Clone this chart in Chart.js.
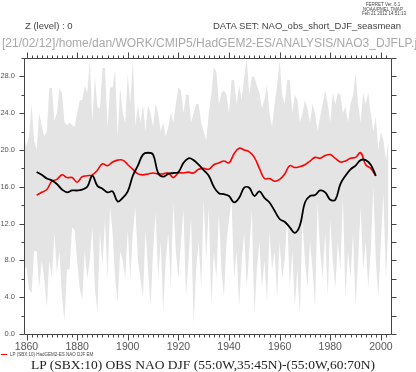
<!DOCTYPE html>
<html>
<head>
<meta charset="utf-8">
<script src="https://cdn.jsdelivr.net/npm/chart.js@4.4.0/dist/chart.umd.min.js"></script>
<style>
  html, body { margin: 0; padding: 0; background: #fff; }
  #wrap { position: relative; width: 416px; height: 372px; overflow: hidden; }
  #chart { position: absolute; left: 0; top: 0; }
  .lbl { position: absolute; white-space: nowrap; font-family: "Liberation Sans", Arial, sans-serif; color: #444; line-height: 1; }
  .tiny { transform: scale(0.5); transform-origin: 0 0; }
</style>
</head>
<body>
<div id="wrap">
  <canvas id="chart" width="416" height="372"></canvas>
  <div class="lbl tiny" style="left:362px; top:2px; font-size:9px; line-height:9.5px; text-align:center; width:84px;">FERRET Ver. 6.1<br>NOAA/PMEL TMAP<br>Feb 21 2012 14:51:13</div>
  <div class="lbl" style="left:25px; top:21px; font-size:9.5px;">Z (level) : 0</div>
  <div class="lbl" style="left:213px; top:21px; font-size:9.5px;">DATA SET: NAO_obs_short_DJF_seasmean</div>
  <div class="lbl" style="left:2px; top:37px; font-size:12px; color:#a8a8a8;">[21/02/12]/home/dan/WORK/CMIP5/HadGEM2-ES/ANALYSIS/NAO3_DJFLP.jnl</div>
  <div class="lbl" style="left:1px; top:354px; width:6px; height:1px; background:#ff0000;"></div>
  <div class="lbl tiny" style="left:10px; top:351.5px; font-size:9px;">LP (SBX:10) HadGEM2-ES NAO DJF EM</div>
  <div class="lbl" style="left:0; top:358px; width:406px; text-align:center; font-family:'Liberation Serif', serif; font-size:13.5px; color:#222;">LP (SBX:10) OBS NAO DJF (55:0W,35:45N)-(55:0W,60:70N)</div>
</div>
<script>
// years of the annual spread band (grey)
const bandYears = [
  1859, 1860, 1861, 1862, 1863, 1864, 1865, 1866, 1867, 1868,
  1869, 1870, 1871, 1872, 1873, 1874, 1875, 1876, 1877, 1878,
  1879, 1880, 1881, 1882, 1883, 1884, 1885, 1886, 1887, 1888,
  1889, 1890, 1891, 1892, 1893, 1894, 1895, 1896, 1897, 1898,
  1899, 1900, 1901, 1902, 1903, 1904, 1905, 1906, 1907, 1908,
  1909, 1910, 1911, 1912, 1913, 1914, 1915, 1916, 1917, 1918,
  1919, 1920, 1921, 1922, 1923, 1924, 1925, 1926, 1927, 1928,
  1929, 1930, 1931, 1932, 1933, 1934, 1935, 1936, 1937, 1938,
  1939, 1940, 1941, 1942, 1943, 1944, 1945, 1946, 1947, 1948,
  1949, 1950, 1951, 1952, 1953, 1954, 1955, 1956, 1957, 1958,
  1959, 1960, 1961, 1962, 1963, 1964, 1965, 1966, 1967, 1968,
  1969, 1970, 1971, 1972, 1973, 1974, 1975, 1976, 1977, 1978,
  1979, 1980, 1981, 1982, 1983, 1984, 1985, 1986, 1987, 1988,
  1989, 1990, 1991, 1992, 1993, 1994, 1995, 1996, 1997, 1998,
  1999, 2000, 2001, 2002, 2003
];
// upper edge of the band
const bandHi = [
  21, 20.5, 21.5, 25, 21, 20, 24, 22.6, 21.5, 22,
  26.7, 26.8, 23.2, 24, 26.7, 26.2, 23, 22.7, 23, 22.7,
  22.5, 24, 25.4, 25.4, 27, 26.2, 29.8, 23, 28, 24.7,
  24.5, 28.9, 28.9, 22.5, 26.8, 26.8, 28.7, 21.4, 26.8, 24,
  23, 28.2, 25, 29.8, 22.6, 24.9, 23, 24.9, 22, 24.9,
  24, 22.5, 25, 24, 22, 23, 21.5, 22.5, 24, 23,
  25, 26.8, 26.5, 24, 26, 26, 23, 24, 25, 25,
  23, 22, 21, 24, 26, 29, 28.5, 25, 26.2, 26.5,
  26, 24, 27.6, 27.6, 25, 27, 25.5, 28, 30, 26,
  28, 28, 27, 26.2, 24.5, 25.5, 27, 24, 22.5, 25,
  27, 29.8, 26, 25, 27.6, 27.6, 24, 26, 25.4, 23,
  24, 25.4, 24.5, 23, 25, 24, 22, 23.6, 25, 26.5,
  25, 23, 26.2, 25, 26.2, 26, 24, 24.7, 23, 25,
  26, 28.4, 25, 23, 26.2, 25, 26.2, 24, 22, 23.6,
  20, 22, 21, 19, 21
];
// lower edge of the band
const bandLo = [
  7, 7.3, 4.8, 4.5, 9, 9, 5, 8, 6, 2.9,
  8, 6, 11, 6.6, 9, 4, 1.5, 7, 7, 11.6,
  11.3, 8, 5, 3.7, 9, 6, 8, 11.6, 5, 2.3,
  11, 7.5, 12.4, 6, 13.8, 11, 6, 3.4, 9, 8,
  6, 11.3, 5.9, 11, 13.8, 8, 6, 4, 11.3, 7,
  3, 9, 13.2, 6, 10, 2.5, 8, 11, 5, 14.2,
  9, 6, 10, 13.5, 4, 8, 12.7, 1, 7, 10,
  5, 14.5, 8, 13.8, 3, 9, 6, 13.2, 7, 4,
  10, 12.4, 14.5, 6, 9, 3, 8, 11, 5, 9,
  13.5, 2, 7, 10, 5, 8, 3.5, 11, 7, 9,
  4, 10, 6, 8, 12.7, 5, 9, 3, 7, 2,
  12.4, 8, 5, 10, 7, 3, 14.2, 9, 6, 11,
  4, 12.4, 8, 5, 10, 7, 14.9, 4, 9, 6,
  11, 3, 8, 13.8, 7, 10, 5, 9, 16, 8,
  4, 10, 15.3, 6, 12
];

// smoothed series (LP SBX:10), read every 2 years
const lineYears = [
  1864, 1866, 1868, 1870, 1872, 1874, 1876, 1878, 1880, 1882,
  1884, 1886, 1888, 1890, 1892, 1894, 1896, 1898, 1900, 1902,
  1904, 1906, 1908, 1910, 1912, 1914, 1916, 1918, 1920, 1922,
  1924, 1926, 1928, 1930, 1932, 1934, 1936, 1938, 1940, 1942,
  1944, 1946, 1948, 1950, 1952, 1954, 1956, 1958, 1960, 1962,
  1964, 1966, 1968, 1970, 1972, 1974, 1976, 1978, 1980, 1982,
  1984, 1986, 1988, 1990, 1992, 1994, 1996, 1998
];
const obsNao = [
  17.6, 17.3, 16.9, 16.7, 16.3, 15.7, 15.4, 15.6, 15.6, 15.7,
  16.0, 17.2, 16.1, 15.8, 15.4, 15.5, 14.4, 14.8, 15.5, 17.2,
  18.3, 19.5, 19.7, 19.5, 17.5, 17.1, 17.4, 17.5, 17.6, 18.6,
  19.1, 18.9, 18.4, 17.8, 17.2, 16.0, 15.3, 15.2, 15.0, 14.3,
  14.8, 15.9, 15.9, 15.0, 15.5, 14.8, 14.3, 13.4, 12.5, 12.2,
  11.6, 11.0, 11.8, 14.3, 15.0, 15.1, 15.6, 15.4, 14.6, 14.6,
  16.3, 17.2, 17.9, 18.3, 18.9, 18.9, 18.4, 17.2
];
const modelNao = [
  15.1, 15.4, 15.7, 16.6, 16.8, 17.3, 17.0, 17.0, 16.5, 17.1,
  17.2, 17.3, 17.8, 18.5, 18.3, 18.7, 18.9, 18.9, 18.4, 17.9,
  17.4, 17.3, 17.4, 17.5, 17.4, 17.4, 17.5, 17.0, 17.5, 17.5,
  17.6, 17.5, 17.9, 18.0, 17.9, 18.4, 18.6, 18.8, 18.6, 19.6,
  20.2, 20.0, 19.8, 19.2, 18.0, 16.9, 16.9, 16.6, 16.8, 17.4,
  18.3, 18.1, 18.2, 18.4, 18.8, 19.2, 19.1, 19.4, 19.5, 19.1,
  18.7, 18.8, 19.1, 19.2, 19.7, 18.4, 18.0, 17.2
];

// axis ticks
const xLabelYears = [1860, 1880, 1900, 1920, 1940, 1960, 1980, 2000];
const yLabelValues = [0, 4, 8, 12, 16, 20, 24, 28];

const pts = (xs, ys) => xs.map((v, i) => ({ x: v, y: ys[i] }));

// ferret style frame with minor/major ticks on all four sides
const ferretAxes = {
  id: 'ferretAxes',
  afterDraw(chart) {
    const { ctx, chartArea: a, scales: { x, y } } = chart;
    ctx.save();
    ctx.strokeStyle = '#444';
    ctx.lineWidth = 1;
    ctx.beginPath();
    const L = Math.round(a.left) + 0.5, R = Math.round(a.right) + 0.5;
    const T = Math.round(a.top) + 0.5, B = Math.round(a.bottom) + 0.5;
    ctx.rect(L, T, R - L, B - T);
    for (let yr = 1860; yr <= 2002; yr += 2) {
      const px = Math.round(x.getPixelForValue(yr)) + 0.5;
      const len = yr % 20 === 0 ? 6 : 3;
      ctx.moveTo(px, B); ctx.lineTo(px, B + len);
      ctx.moveTo(px, T); ctx.lineTo(px, T - len);
    }
    for (let v = 0; v <= 30; v += 2) {
      const py = Math.round(y.getPixelForValue(v)) + 0.5;
      const len = v % 4 === 0 ? 5 : 3;
      ctx.moveTo(L, py); ctx.lineTo(L - len, py);
      ctx.moveTo(R, py); ctx.lineTo(R + 5, py);
    }
    ctx.stroke();
    ctx.restore();
  }
};

new Chart(document.getElementById('chart'), {
  type: 'line',
  data: {
    datasets: [
      {
        label: 'OBS NAO DJF',
        data: pts(lineYears, obsNao),
        borderColor: '#000000',
        borderWidth: 1.8,
        pointRadius: 0,
        tension: 0.4,
        fill: false,
        order: 0
      },
      {
        label: 'HadGEM2-ES NAO DJF EM',
        data: pts(lineYears, modelNao),
        borderColor: '#ff0000',
        borderWidth: 1.6,
        pointRadius: 0,
        tension: 0.4,
        fill: false,
        order: 1
      },
      {
        label: 'band low',
        data: pts(bandYears, bandLo),
        borderColor: 'rgba(0,0,0,0)',
        borderWidth: 0,
        pointRadius: 0,
        tension: 0,
        fill: false,
        order: 3
      },
      {
        label: 'band high',
        data: pts(bandYears, bandHi),
        borderColor: 'rgba(0,0,0,0)',
        backgroundColor: '#e4e4e4',
        borderWidth: 0,
        pointRadius: 0,
        tension: 0,
        fill: 2,
        order: 2
      }
    ]
  },
  options: {
    responsive: false,
    animation: false,
    devicePixelRatio: 1,
    layout: { padding: { top: 58, right: 25, bottom: 0, left: 0 } },
    plugins: {
      legend: { display: false },
      tooltip: { enabled: false },
      title: { display: false }
    },
    scales: {
      x: {
        type: 'linear',
        min: 1859,
        max: 2004,
        grid: { display: false, drawTicks: false },
        border: { display: false },
        afterBuildTicks: (s) => { s.ticks = xLabelYears.map(v => ({ value: v })); },
        afterFit: (s) => { s.height = 38; },
        ticks: {
          maxRotation: 0,
          autoSkip: false,
          padding: 7,
          color: '#555',
          font: { family: 'Liberation Sans', size: 10.5 },
          callback: (v) => String(v)
        }
      },
      y: {
        min: 0,
        max: 30,
        grid: { display: false, drawTicks: false },
        border: { display: false },
        afterBuildTicks: (s) => { s.ticks = yLabelValues.map(v => ({ value: v })); },
        afterFit: (s) => { s.width = 24; },
        ticks: {
          padding: 9,
          color: '#555',
          font: { family: 'Liberation Sans', size: 7.5 },
          callback: (v) => Number(v).toFixed(1)
        }
      }
    }
  },
  plugins: [ferretAxes]
});
</script>
</body>
</html>
